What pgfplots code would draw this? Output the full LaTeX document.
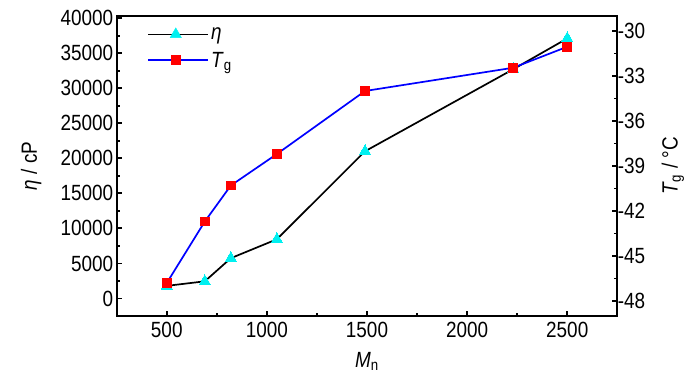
\documentclass[border=0pt]{standalone}
\usepackage{fontspec}
\setmainfont{Liberation Sans}[FakeStretch=0.86]
\usepackage{pgfplots}
\pgfplotsset{compat=1.18}
\definecolor{mycyan}{RGB}{0,240,240}
\begin{document}
\begin{tikzpicture}[font=\fontsize{22}{26}\selectfont]
\pgfplotsset{
  every axis/.append style={
    scale only axis, width=500.6pt, height=300pt,
    xmin=250, xmax=2750,
    tick label style={font=\fontsize{22}{26}\selectfont},
    label style={font=\fontsize{22}{26}\selectfont},
    /pgf/number format/assume math mode=true,
    /pgf/number format/1000 sep={},
    scaled ticks=false,
    tick align=inside,
    major tick length=5.5pt, minor tick length=3.5pt,
    minor tick num=1,
    axis line style={line width=1.9pt},
    every tick/.style={line width=1.8pt, black},
  }
}
\begin{axis}[name=ax1,
  ymin=-2500, ymax=40300,
  ytick={0,5000,...,40000},
  xtick={500,1000,...,2500},
  xtick pos=bottom, ytick pos=left,
  xticklabel style={yshift=-3pt},
  xlabel={\textit{M}\textsubscript{n}},
  xlabel style={at={(axis description cs:0.5,-0.152)}, anchor=center},
  ylabel={\textit{η} / cP},
  ylabel style={at={(axis description cs:-0.171,0.5)}, anchor=center, rotate=0},
]
\addplot[black, line width=1.7pt, mark=triangle*, mark size=6.5pt,
  mark options={fill=mycyan, draw=mycyan, line width=0pt}]
  coordinates {(500,1800) (690,2450) (820,5750) (1050,8450) (1490,21000) (2230,32700) (2500,37100)};
\end{axis}
\begin{axis}[name=ax2,
  ymin=-49, ymax=-29,
  ytick={-48,-45,...,-30},
  hide x axis,
  ytick pos=right,
  yticklabel style={xshift=-3pt},
  ylabel={\textit{T}\textsubscript{g} / °C},
  ylabel style={at={(axis description cs:1.111,0.5)}, anchor=center, rotate=0},
  legend cell align=left,
  legend style={at={(axis description cs:0.055,0.975)}, anchor=north west,
    draw=none, fill=none, font=\fontsize{22}{26}\selectfont, row sep=7pt},
]
\addlegendimage{legend image code/.code={
    \path (0pt,0pt) -- (60pt,0pt);
    \draw[black, line width=1.7pt] (0pt,0pt) -- (17pt,0pt);
    \draw[black, line width=1.7pt] (38pt,0pt) -- (55pt,0pt);
    \fill[mycyan] (27.5pt,0pt) ++(90:6.5pt) -- ++(-120:11.26pt) -- ++(0:11.26pt) -- cycle;
  }}
\addlegendentry{\textit{η}}
\addplot[blue, line width=1.7pt, mark=square*, mark size=4.3pt,
  mark options={fill=red, draw=red, line width=0pt},
  legend image code/.code={
    \path (0pt,0pt) -- (60pt,0pt);
    \draw[blue, line width=1.7pt] (0pt,0pt) -- (18pt,0pt);
    \draw[blue, line width=1.7pt] (37pt,0pt) -- (55pt,0pt);
    \fill[red] (23.2pt,-4.3pt) rectangle (31.8pt,4.3pt);
  }]
  coordinates {(500,-46.8) (690,-42.7) (820,-40.3) (1050,-38.2) (1490,-34.0) (2230,-32.45) (2500,-31.05)};
\addlegendentry{\textit{T}\textsubscript{g}}
\end{axis}
\pgfresetboundingbox
\path[use as bounding box] ([shift={(-116.7pt,-58pt)}]ax1.south west) rectangle ([shift={(82.7pt,16pt)}]ax1.north east);
\end{tikzpicture}
\end{document}
